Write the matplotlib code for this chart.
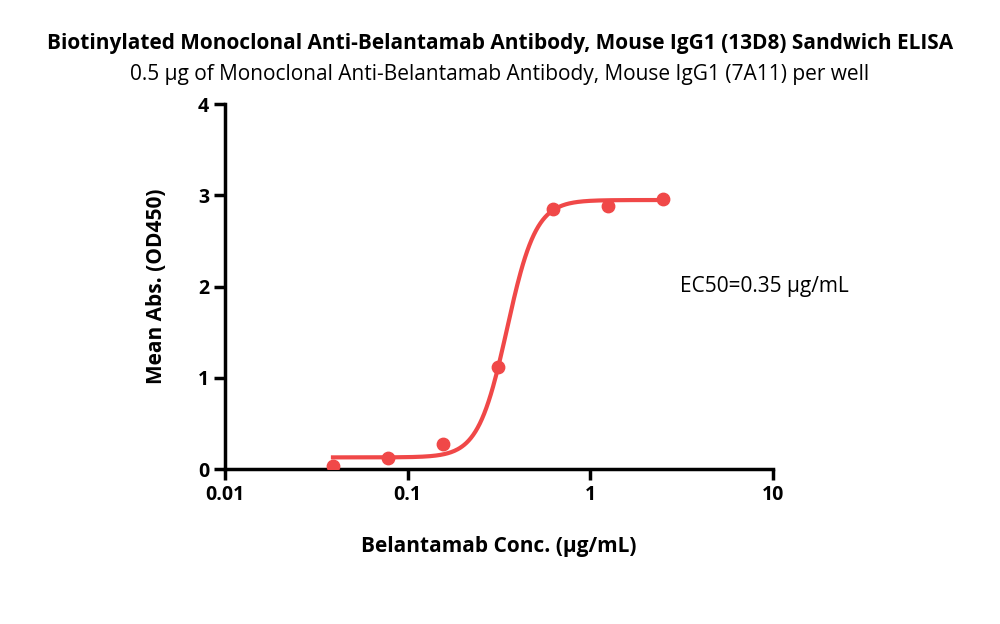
import numpy as np
import matplotlib.pyplot as plt
from matplotlib.ticker import FixedLocator, NullLocator

plt.rcParams['font.family'] = ['Open Sans', 'DejaVu Sans']

conc = [0.039, 0.078, 0.156, 0.3125, 0.625, 1.25, 2.5]
od450 = [0.04, 0.12, 0.28, 1.12, 2.85, 2.89, 2.96]

# 4PL fit parameters
bottom, top, ec50, hill = 0.13, 2.95, 0.35, 5.5

red = "#f04848"

fig = plt.figure(figsize=(10, 6.24), dpi=100)
ax = fig.add_axes([0.225, 0.248, 0.548, 0.585])

xs = np.logspace(np.log10(conc[0]), np.log10(conc[-1]), 300)
ys = bottom + (top - bottom) / (1 + (ec50 / xs) ** hill)
ax.plot(xs, ys, color=red, linewidth=3)
ax.scatter(conc, od450, color=red, s=80, zorder=3)

ax.set_xscale("log")
ax.set_xlim(0.01, 10)
ax.set_ylim(0, 4)
ax.xaxis.set_major_locator(FixedLocator([0.01, 0.1, 1, 10]))
ax.xaxis.set_minor_locator(NullLocator())
ax.set_xticklabels(["0.01", "0.1", "1", "10"])
ax.set_yticks([0, 1, 2, 3, 4])
for s in ["top", "right"]:
    ax.spines[s].set_visible(False)
for s in ["left", "bottom"]:
    ax.spines[s].set_linewidth(2.5)
ax.tick_params(width=2.5, length=8, labelsize=14)
for lab in ax.get_xticklabels() + ax.get_yticklabels():
    lab.set_fontweight("bold")

ax.set_xlabel("Belantamab Conc. (µg/mL)", fontsize=15, fontweight="bold", labelpad=22)
ax.set_ylabel("Mean Abs. (OD450)", fontsize=15, fontweight="bold", labelpad=22)
ax.text(0.83, 0.5, "EC50=0.35 µg/mL", transform=ax.transAxes, fontsize=15,
        ha="left", va="center")

fig.text(0.5, 0.922, "Biotinylated Monoclonal Anti-Belantamab Antibody, Mouse IgG1 (13D8) Sandwich ELISA",
         ha="center", fontsize=15, fontweight="bold")
fig.text(0.5, 0.872, "0.5 µg of Monoclonal Anti-Belantamab Antibody, Mouse IgG1 (7A11) per well",
         ha="center", fontsize=15)

fig.savefig("out.png", dpi=100)
